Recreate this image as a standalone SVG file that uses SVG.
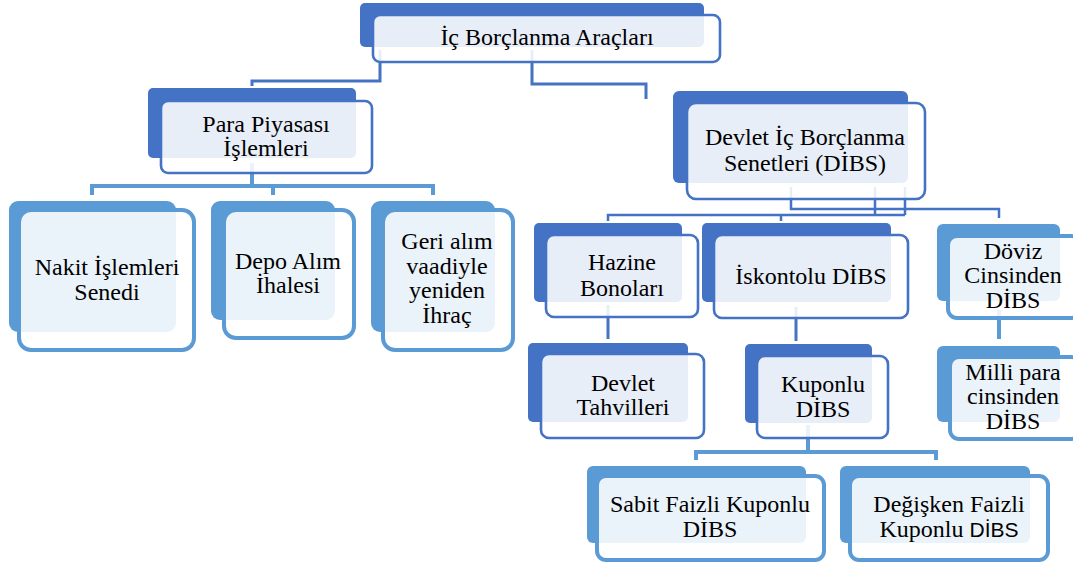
<svg xmlns="http://www.w3.org/2000/svg" width="1073" height="564" viewBox="0 0 1073 564" font-family="'Liberation Serif', serif">
<style>
.bg{fill:#ffffff}
.bd{fill:#4472C4}
.bl{fill:#5B9BD5}
.fd{fill:#ffffff;fill-opacity:0.88;stroke:#4472C4;stroke-width:2.6}
.fl{fill:#ffffff;fill-opacity:0.88;stroke:#5B9BD5;stroke-width:4}
.cd{fill:none;stroke:#4472C4;stroke-width:3}
.cd2{fill:none;stroke:#4472C4;stroke-width:2.5}
.cl{fill:none;stroke:#5B9BD5;stroke-width:4}
.t{font-family:'Liberation Serif',serif;font-size:24px;fill:#000000;text-anchor:middle}
.sans{font-family:'Liberation Sans',sans-serif;font-size:21px}
</style>
<rect class="bg" x="0" y="0" width="1073" height="564"/>
<g id="connectors">
<path class="cd" d="M380 50 V81 H252 V86"/>
<path class="cd" d="M532 50 V84 H646 V99"/>
<path class="cd" d="M608 305 V339"/>
<path class="cd" d="M796 307 V341"/>
<path class="cd2" d="M791 187 V209 H999 V218"/>
<path class="cd2" d="M875 187 V215"/>
<path class="cd2" d="M905 187 V215"/>
<path class="cd2" d="M608 221 V215 H905"/>
<path class="cd2" d="M781 215 V221"/>
<path class="cl" d="M252 163 V186"/>
<path class="cl" d="M92 195 V186 H433 V195"/>
<path class="cl" d="M273 186 V195"/>
<path class="cl" d="M999 310 V339"/>
<path class="cl" d="M808 425 V452"/>
<path class="cl" d="M696 460 V452 H936 V460"/>
</g>
<g id="node-ic-borclanma">
<rect class="bd" x="360" y="3" width="344" height="44" rx="5"/>
<rect class="fd" x="373" y="15" width="347" height="47" rx="7"/>
<text class="t" x="547" y="45">İç Borçlanma Araçları</text>
</g>
<g id="node-para-piyasasi">
<rect class="bd" x="148" y="88" width="208" height="70" rx="5"/>
<rect class="fd" x="161" y="101" width="211" height="72" rx="7"/>
<text class="t" x="266" y="132">Para Piyasası</text>
<text class="t" x="266" y="156">İşlemleri</text>
</g>
<g id="node-nakit">
<rect class="bl" x="9" y="201" width="167" height="131" rx="9"/>
<rect class="fl" x="19" y="210" width="175" height="140" rx="12"/>
<text class="t" x="107" y="275">Nakit İşlemleri</text>
<text class="t" x="107" y="300">Senedi</text>
</g>
<g id="node-depo">
<rect class="bl" x="211" y="201" width="124" height="119" rx="9"/>
<rect class="fl" x="224" y="210" width="130" height="128" rx="12"/>
<text class="t" x="288" y="269">Depo Alım</text>
<text class="t" x="288" y="293">İhalesi</text>
</g>
<g id="node-geri-alim">
<rect class="bl" x="371" y="201" width="124" height="131" rx="9"/>
<rect class="fl" x="383" y="210" width="130" height="140" rx="12"/>
<text class="t" x="447" y="249">Geri alım</text>
<text class="t" x="447" y="274">vaadiyle</text>
<text class="t" x="447" y="298">yeniden</text>
<text class="t" x="447" y="323">İhraç</text>
</g>
<g id="node-dibs">
<rect class="bd" x="673" y="91" width="235" height="92" rx="6"/>
<rect class="fd" x="687" y="103" width="238" height="96" rx="9"/>
<text class="t" x="805" y="145">Devlet İç Borçlanma</text>
<text class="t" x="805" y="171">Senetleri (DİBS)</text>
</g>
<g id="node-hazine">
<rect class="bd" x="534" y="223" width="148" height="79" rx="5"/>
<rect class="fd" x="546" y="235" width="152" height="82" rx="8"/>
<text class="t" x="622" y="270">Hazine</text>
<text class="t" x="622" y="296">Bonoları</text>
</g>
<g id="node-iskontolu">
<rect class="bd" x="702" y="223" width="189" height="79" rx="5"/>
<rect class="fd" x="714" y="235" width="194" height="83" rx="8"/>
<text class="t" x="811" y="284">İskontolu DİBS</text>
</g>
<g id="node-doviz">
<rect class="bl" x="937" y="224" width="123" height="77" rx="6"/>
<rect class="fl" x="948" y="236" width="132" height="82" rx="9"/>
<text class="t" x="1013" y="259">Döviz</text>
<text class="t" x="1013" y="283">Cinsinden</text>
<text class="t" x="1013" y="308">DİBS</text>
</g>
<g id="node-devlet-tahvilleri">
<rect class="bd" x="528" y="343" width="160" height="79" rx="5"/>
<rect class="fd" x="541" y="354" width="163" height="84" rx="8"/>
<text class="t" x="623" y="391">Devlet</text>
<text class="t" x="623" y="415">Tahvilleri</text>
</g>
<g id="node-kuponlu">
<rect class="bd" x="745" y="344" width="127" height="79" rx="5"/>
<rect class="fd" x="757" y="356" width="131" height="82" rx="8"/>
<text class="t" x="823" y="392">Kuponlu</text>
<text class="t" x="823" y="417">DİBS</text>
</g>
<g id="node-milli-para">
<rect class="bl" x="937" y="346" width="123" height="76" rx="6"/>
<rect class="fl" x="950" y="357" width="130" height="82" rx="9"/>
<text class="t" x="1013" y="380">Milli para</text>
<text class="t" x="1013" y="404">cinsinden</text>
<text class="t" x="1013" y="429">DİBS</text>
</g>
<g id="node-sabit-faizli">
<rect class="bl" x="587" y="466" width="219" height="77" rx="6"/>
<rect class="fl" x="597" y="476" width="227" height="84" rx="9"/>
<text class="t" x="710" y="512">Sabit Faizli Kuponlu</text>
<text class="t" x="710" y="537">DİBS</text>
</g>
<g id="node-degisken-faizli">
<rect class="bl" x="840" y="466" width="190" height="77" rx="6"/>
<rect class="fl" x="850" y="476" width="198" height="84" rx="9"/>
<text class="t" x="949" y="512">Değişken Faizli</text>
<text class="t" x="949" y="537">Kuponlu <tspan class="sans">DİBS</tspan></text>
</g>
</svg>
